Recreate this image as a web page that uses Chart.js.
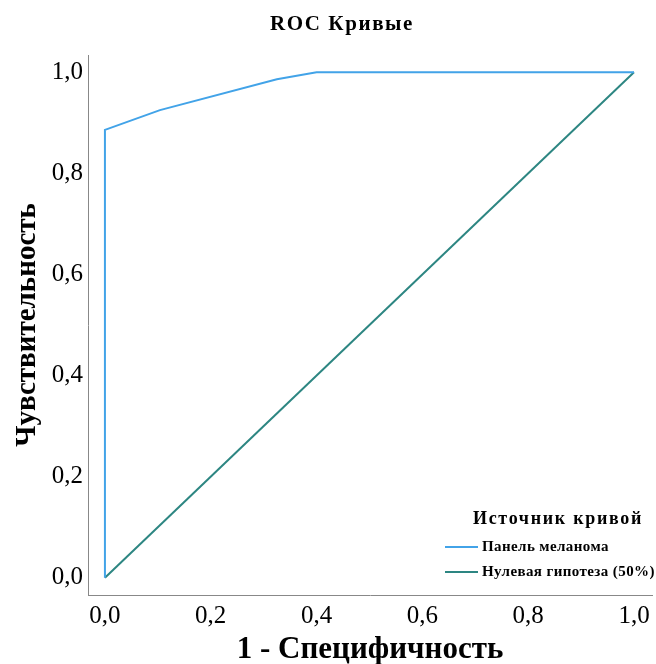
<!DOCTYPE html>
<html>
<head>
<meta charset="utf-8">
<script src="https://cdn.jsdelivr.net/npm/chart.js@4"></script>
<style>
  html, body { margin: 0; padding: 0; background: #fff; }
  #wrap { width: 656px; height: 664px; position: relative; }
</style>
</head>
<body>
<div id="wrap"><canvas id="roc"></canvas></div>
<script>
// values
const chartTitle = 'ROC Кривые';
const legendTitle = 'Источник кривой';
const seriesNames = ['Панель меланома', 'Нулевая гипотеза (50%)'];
const panelX = [0, 0, 0.104, 0.325, 0.40, 1.0];
const panelY = [0, 0.886, 0.925, 0.986, 1.0, 1.0];
const nullX = [0, 1];
const nullY = [0, 1];
const tickValues = [0, 0.2, 0.4, 0.6, 0.8, 1.0];

const SERIF = '"Liberation Serif", "DejaVu Serif", serif';
const toPoints = (xs, ys) => xs.map((x, i) => ({ x: x, y: ys[i] }));
const fmt = v => v.toFixed(1).replace('.', ',');

// title + legend drawn by hand, SPSS style (wide letter spacing)
const decor = {
  id: 'decor',
  afterDraw(chart) {
    const ctx = chart.ctx;
    ctx.save();
    ctx.fillStyle = '#000';
    ctx.textBaseline = 'middle';
    ctx.textAlign = 'center';
    ctx.font = 'bold 21px ' + SERIF;
    ctx.letterSpacing = '1.6px';
    ctx.fillText(chartTitle, 342, 25);

    ctx.font = 'bold 18px ' + SERIF;
    ctx.letterSpacing = '1.7px';
    ctx.fillText(legendTitle, 558, 519);

    ctx.textAlign = 'left';
    ctx.font = 'bold 15px ' + SERIF;
    ctx.letterSpacing = '0.4px';
    chart.data.datasets.forEach((ds, i) => {
      const y = 547 + i * 25;
      ctx.strokeStyle = ds.borderColor;
      ctx.lineWidth = 2;
      ctx.beginPath();
      ctx.moveTo(445, y);
      ctx.lineTo(478, y);
      ctx.stroke();
      ctx.fillText(ds.label, 482, y);
    });
    ctx.restore();
  }
};

new Chart(document.getElementById('roc'), {
  type: 'scatter',
  data: {
    datasets: [
      {
        label: seriesNames[0],
        data: toPoints(panelX, panelY),
        showLine: true,
        borderColor: '#42a3e8',
        borderWidth: 2,
        pointRadius: 0,
        tension: 0
      },
      {
        label: seriesNames[1],
        data: toPoints(nullX, nullY),
        showLine: true,
        borderColor: '#2d8682',
        borderWidth: 2,
        pointRadius: 0,
        tension: 0
      }
    ]
  },
  options: {
    responsive: true,
    maintainAspectRatio: false,
    animation: false,
    layout: { padding: { left: 0, top: 55, right: 4, bottom: 0 } },
    plugins: {
      legend: { display: false },
      title: { display: false },
      tooltip: { enabled: false }
    },
    scales: {
      x: {
        type: 'linear',
        min: -0.032,
        max: 1.034,
        afterBuildTicks: s => { s.ticks = tickValues.map(v => ({ value: v })); },
        afterFit: s => { s.height = 69; },
        grid: { drawOnChartArea: false, drawTicks: false },
        border: { color: '#888', width: 1 },
        ticks: {
          padding: 6,
          color: '#000',
          font: { family: SERIF, size: 25 },
          callback: v => fmt(v)
        },
        title: {
          display: true,
          text: '1 - Специфичность',
          color: '#000',
          font: { family: SERIF, size: 31, weight: 'bold' },
          padding: { top: 0, bottom: -5 }
        }
      },
      y: {
        type: 'linear',
        min: -0.034,
        max: 1.034,
        afterBuildTicks: s => { s.ticks = tickValues.map(v => ({ value: v })); },
        afterFit: s => { s.width = 88; },
        grid: { drawOnChartArea: false, drawTicks: false },
        border: { color: '#888', width: 1 },
        ticks: {
          padding: 5,
          color: '#000',
          font: { family: SERIF, size: 25 },
          callback: v => fmt(v)
        },
        title: {
          display: true,
          text: 'Чувствительность',
          color: '#000',
          font: { family: SERIF, size: 29, weight: 'bold' },
          padding: { top: 10, bottom: 0 }
        }
      }
    }
  },
  plugins: [decor]
});
</script>
</body>
</html>
